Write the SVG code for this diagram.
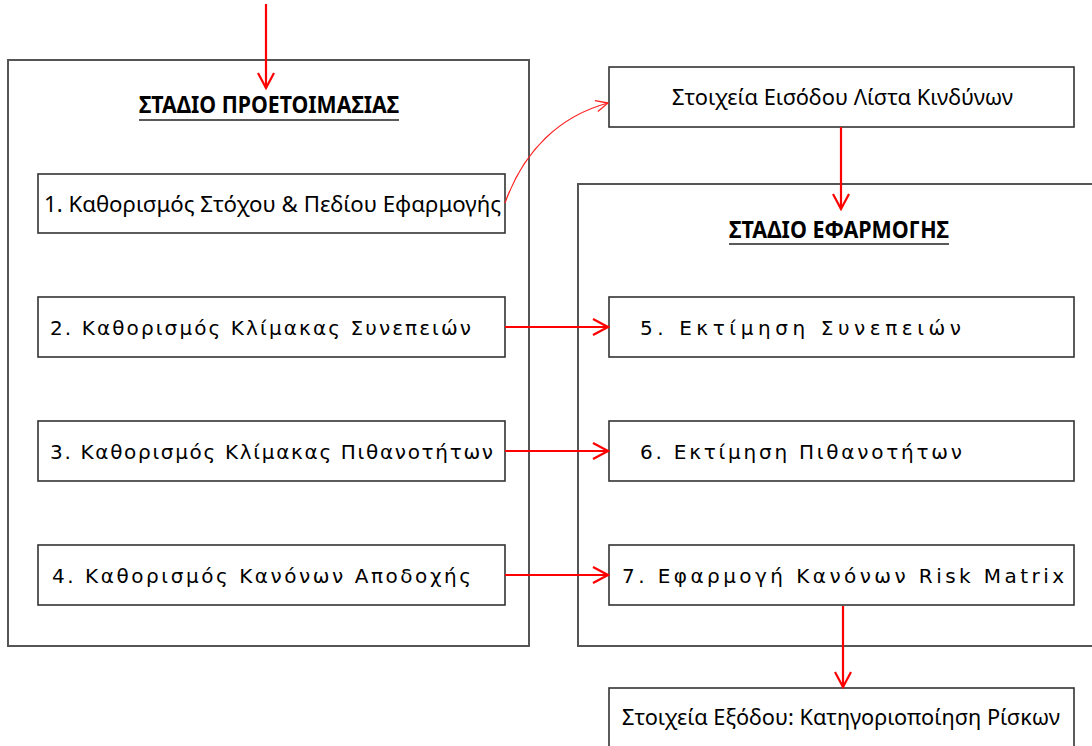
<svg xmlns="http://www.w3.org/2000/svg" width="1092" height="746" viewBox="0 0 1092 746">
  <defs>
    <style>
      .stage { fill: #ffffff; stroke: #555555; stroke-width: 2; }
      .box { fill: #ffffff; stroke: #333333; stroke-width: 1.6; }
      .title { font-family: "Noto Sans", "Open Sans", sans-serif; font-weight: bold; font-size: 23px; fill: #000000; }
      .ul { stroke: #222222; stroke-width: 1.6; }
      .lbl { font-family: "Noto Sans", "Open Sans", sans-serif; font-size: 21px; fill: #000000; }
      .sp { font-family: "DejaVu Sans", "Liberation Sans", sans-serif; font-size: 20px; fill: #000000; }
      .flow { fill: none; stroke: #ff0000; stroke-width: 2.2; }
      .thin { fill: none; stroke: #ff2020; stroke-width: 1.2; }
    </style>
    <marker id="head" viewBox="0 0 20 20" refX="18" refY="10" markerWidth="20" markerHeight="20" markerUnits="userSpaceOnUse" orient="auto">
      <path d="M3,2 L18,10 L3,18" fill="none" stroke="#ff0000" stroke-width="2.2"/>
    </marker>
    <marker id="headThin" viewBox="0 0 20 20" refX="18" refY="10" markerWidth="16" markerHeight="16" markerUnits="userSpaceOnUse" orient="auto">
      <path d="M3,3 L18,10 L3,17" fill="none" stroke="#ff2020" stroke-width="1.6"/>
    </marker>
  </defs>

  <rect width="1092" height="746" fill="#ffffff"/>

  <!-- preparation stage container -->
  <g id="stage-prep">
    <rect class="stage" x="8" y="60" width="521" height="586"/>
    <text class="title" x="269" y="113" text-anchor="middle" textLength="260" lengthAdjust="spacingAndGlyphs">ΣΤΑΔΙΟ ΠΡΟΕΤΟΙΜΑΣΙΑΣ</text>
    <line class="ul" x1="139" y1="120" x2="399" y2="120"/>
  </g>

  <!-- application stage container (runs off the right edge) -->
  <g id="stage-apply">
    <rect class="stage" x="578" y="184" width="530" height="462"/>
    <text class="title" x="839" y="238" text-anchor="middle" textLength="220" lengthAdjust="spacingAndGlyphs">ΣΤΑΔΙΟ ΕΦΑΡΜΟΓΗΣ</text>
    <line class="ul" x1="729" y1="244" x2="949" y2="244"/>
  </g>

  <g id="step1">
    <rect class="box" x="38" y="174" width="467" height="59"/>
    <text class="lbl" x="44" y="212" textLength="457" lengthAdjust="spacingAndGlyphs">1. Καθορισμός Στόχου &amp; Πεδίου Εφαρμογής</text>
  </g>

  <g id="step2">
    <rect class="box" x="38" y="297" width="467" height="60"/>
    <text class="sp" x="50" y="335" textLength="421" lengthAdjust="spacing">2. Καθορισμός Κλίμακας Συνεπειών</text>
  </g>

  <g id="step3">
    <rect class="box" x="38" y="421" width="467" height="60"/>
    <text class="sp" x="50" y="459" textLength="443" lengthAdjust="spacing">3. Καθορισμός Κλίμακας Πιθανοτήτων</text>
  </g>

  <g id="step4">
    <rect class="box" x="38" y="545" width="467" height="60"/>
    <text class="sp" x="52" y="583" textLength="419" lengthAdjust="spacing">4. Καθορισμός Κανόνων Αποδοχής</text>
  </g>

  <g id="input-list">
    <rect class="box" x="609" y="67" width="465" height="60"/>
    <text class="lbl" x="672" y="105" textLength="341" lengthAdjust="spacingAndGlyphs">Στοιχεία Εισόδου Λίστα Κινδύνων</text>
  </g>

  <g id="step5">
    <rect class="box" x="609" y="297" width="465" height="60"/>
    <text class="sp" x="640" y="335" textLength="321" lengthAdjust="spacing">5. Εκτίμηση Συνεπειών</text>
  </g>

  <g id="step6">
    <rect class="box" x="609" y="421" width="465" height="60"/>
    <text class="sp" x="640" y="459" textLength="322" lengthAdjust="spacing">6. Εκτίμηση Πιθανοτήτων</text>
  </g>

  <g id="step7">
    <rect class="box" x="609" y="545" width="465" height="60"/>
    <text class="sp" x="622" y="583" textLength="442" lengthAdjust="spacing">7. Εφαρμογή Κανόνων Risk Matrix</text>
  </g>

  <g id="output-risk">
    <rect class="box" x="609" y="688" width="465" height="70"/>
    <text class="lbl" x="622" y="725" textLength="438" lengthAdjust="spacingAndGlyphs">Στοιχεία Εξόδου: Κατηγοριοποίηση Ρίσκων</text>
  </g>

  <!-- connectors -->
  <g id="connectors">
    <line class="flow" x1="266" y1="4" x2="266" y2="88" marker-end="url(#head)"/>
    <path class="thin" d="M505,203 C524,150 560,116 608,103" marker-end="url(#headThin)"/>
    <line class="flow" x1="841" y1="127" x2="841" y2="209" marker-end="url(#head)"/>
    <line class="flow" x1="505" y1="327" x2="608" y2="327" marker-end="url(#head)"/>
    <line class="flow" x1="505" y1="451" x2="608" y2="451" marker-end="url(#head)"/>
    <line class="flow" x1="505" y1="575" x2="608" y2="575" marker-end="url(#head)" stroke-width="2.8"/>
    <line class="flow" x1="843" y1="606" x2="843" y2="687" marker-end="url(#head)" stroke-width="1.8"/>
  </g>
</svg>
